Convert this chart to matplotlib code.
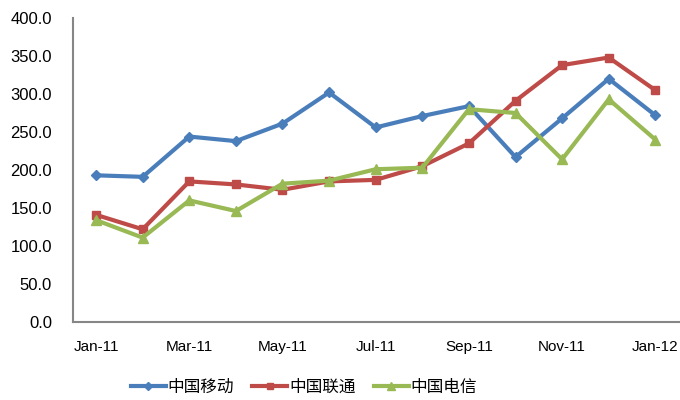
import matplotlib
matplotlib.use("Agg")
import matplotlib.pyplot as plt

months = ["Jan-11", "Feb-11", "Mar-11", "Apr-11", "May-11", "Jun-11", "Jul-11",
          "Aug-11", "Sep-11", "Oct-11", "Nov-11", "Dec-11", "Jan-12"]
mobile = [193, 191, 244, 238, 261, 302, 256, 271, 284, 217, 268, 320, 272]
unicom = [141, 122, 185, 181, 174, 185, 187, 205, 235, 291, 338, 348, 305]
telecom = [134, 111, 160, 146, 182, 186, 201, 203, 280, 275, 214, 293, 240]
series_names = ["中国移动", "中国联通", "中国电信"]
yticks = [0, 50, 100, 150, 200, 250, 300, 350, 400]

plt.rcParams['font.family'] = ['Liberation Sans', 'Noto Sans CJK SC', 'DejaVu Sans']

fig = plt.figure(figsize=(6.8, 4.0), dpi=100)
ax = fig.add_axes([0.107, 0.195, 0.891, 0.76])

x = list(range(len(months)))
styles = [("#4A7EBB", "D", 5.5), ("#BE4B48", "s", 5.5), ("#98B954", "^", 7)]
for vals, name, (c, m, ms) in zip([mobile, unicom, telecom], series_names, styles):
    ax.plot(x, vals, color=c, marker=m, markersize=ms, linewidth=3.0, label=name)

ax.set_xlim(-0.5, len(months) - 0.5)
ax.set_ylim(0, 400)
ax.set_yticks(yticks)
ax.set_yticklabels([f"{v:.1f}" for v in yticks], fontsize=12)
ax.set_xticks(x[::2])
ax.set_xticklabels(months[::2], fontsize=11)
ax.tick_params(axis='y', length=0, pad=15)
ax.tick_params(axis='x', length=0, pad=13)
for s in ["top", "right"]:
    ax.spines[s].set_visible(False)
for s in ["left", "bottom"]:
    ax.spines[s].set_color("#868686")
    ax.spines[s].set_linewidth(1.5)

fig.legend(loc="center", bbox_to_anchor=(0.447, 0.032), ncol=3, frameon=False,
           prop={'family': ['Noto Sans CJK SC', 'DejaVu Sans'], 'size': 12},
           handlelength=2.1, columnspacing=1.1, handletextpad=0.1, markerscale=0.8)

fig.savefig("out.png", dpi=100)
